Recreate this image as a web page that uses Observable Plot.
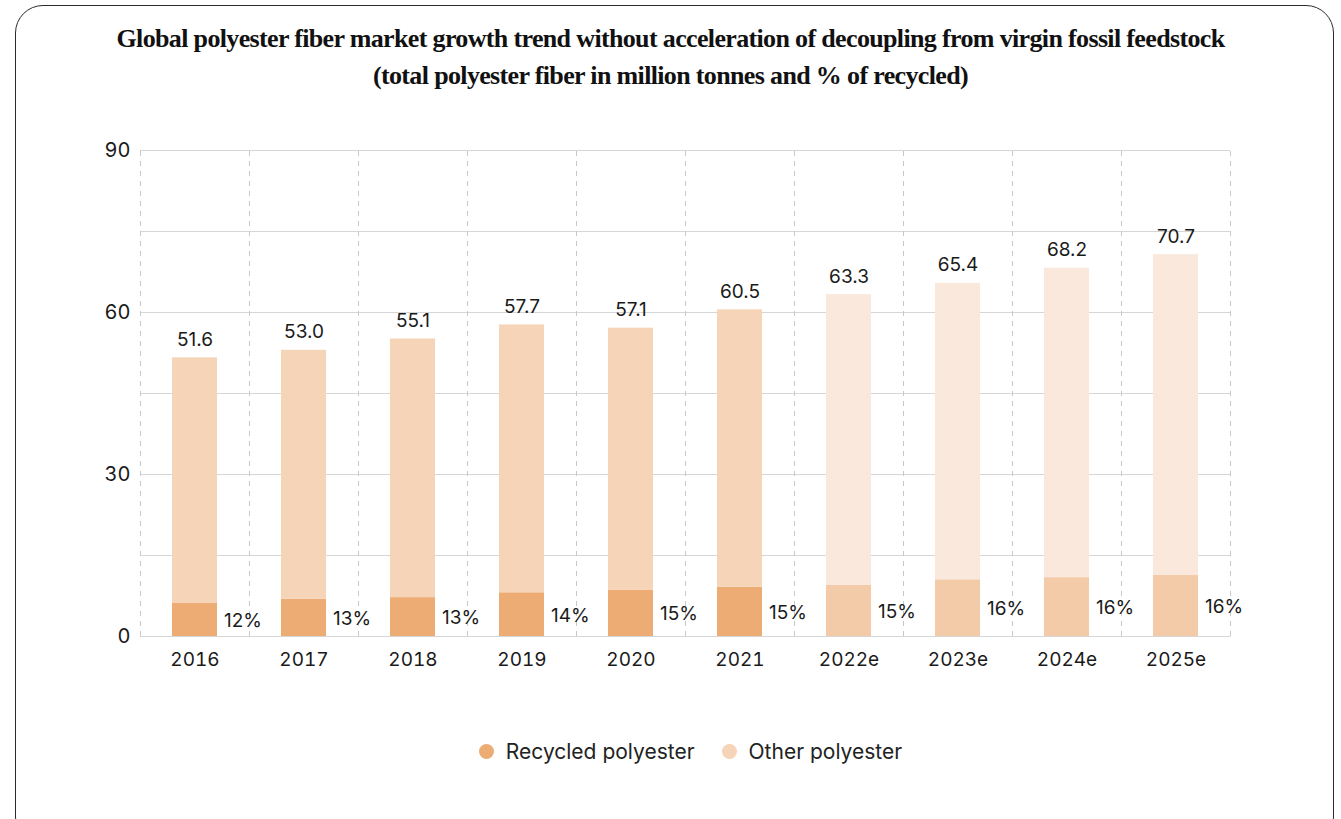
<!DOCTYPE html>
<html>
<head>
<meta charset="utf-8">
<script src="https://cdn.jsdelivr.net/npm/d3@7"></script>
<script src="https://cdn.jsdelivr.net/npm/@observablehq/plot@0.6"></script>
<style>
  html, body { margin: 0; padding: 0; background: #fff; overflow: hidden; width: 1341px; height: 819px; }
  #frame { position: absolute; left: 15px; top: 5px; width: 1319px; height: 840px; border: 1.5px solid #2a2a2a; border-radius: 28px; box-sizing: border-box; }
  #title { position: absolute; left: 0; top: 20px; width: 1341px; text-align: center; font-family: "Liberation Serif", serif; font-weight: bold; font-size: 26px; line-height: 37px; color: #111; letter-spacing: -0.65px; }
  #chart { position: absolute; left: 0; top: 120px; }
  #legend { position: absolute; left: 20px; top: 739px; width: 1341px; display: flex; justify-content: center; gap: 27px; font-family: Inter, sans-serif; font-size: 21px; color: #222; }
  .item { display: flex; align-items: center; gap: 12px; }
  .dot { width: 15px; height: 15px; border-radius: 50%; display: inline-block; }
</style>
</head>
<body>
<div id="frame"></div>
<div id="title">Global polyester fiber market growth trend without acceleration of decoupling from virgin fossil feedstock<br>(total polyester fiber in million tonnes and % of recycled)</div>
<div id="chart"></div>
<div id="legend"></div>
<script>
const years = ["2016", "2017", "2018", "2019", "2020", "2021", "2022e", "2023e", "2024e", "2025e"];
const totals = [51.6, 53.0, 55.1, 57.7, 57.1, 60.5, 63.3, 65.4, 68.2, 70.7];
const recycled = [6.2, 6.9, 7.2, 8.1, 8.6, 9.1, 9.5, 10.5, 10.9, 11.3];
const recycledShare = ["12%", "13%", "13%", "14%", "15%", "15%", "15%", "16%", "16%", "16%"];
const estimated = [false, false, false, false, false, false, true, true, true, true];
const yTicks = [0, 30, 60, 90];
const yGrid = [0, 15, 30, 45, 60, 75, 90];
const seriesNames = ["Recycled polyester", "Other polyester"];
const colors = {
  actual: {"Recycled polyester": "#ECAC74", "Other polyester": "#F5D4B8"},
  estimate: {"Recycled polyester": "#F3CBA8", "Other polyester": "#F9E8DB"}
};

const rows = [];
years.forEach((y, i) => {
  rows.push({i, year: y, series: "Recycled polyester", value: recycled[i], est: estimated[i]});
  rows.push({i, year: y, series: "Other polyester", value: +(totals[i] - recycled[i]).toFixed(1), est: estimated[i]});
});
const labels = years.map((y, i) => ({i, year: y, total: totals[i], rec: recycled[i], share: recycledShare[i]}));
const boundaries = d3.range(0, years.length + 1);

const font = "Inter, sans-serif";
const chart = Plot.plot({
  width: 1341,
  height: 561,
  marginLeft: 140,
  marginRight: 111,
  marginTop: 30,
  marginBottom: 45,
  style: {fontFamily: font, fontSize: "19px", color: "#222", background: "transparent"},
  x: {type: "linear", domain: [0, years.length]},
  y: {domain: [0, 90]},
  marks: [
    Plot.ruleY(yGrid, {stroke: "#d6d6d6", strokeWidth: 1.2}),
    Plot.ruleX(boundaries, {y1: 0, y2: 90, stroke: "#c8c8c8", strokeDasharray: "5,5", strokeWidth: 1}),
    Plot.rectY(rows, {
      x: "i", interval: 1, y: "value",
      fill: d => (d.est ? colors.estimate : colors.actual)[d.series],
      order: seriesNames,
      insetLeft: 32, insetRight: 32
    }),
    Plot.text(labels, {x: d => d.i + 0.5, y: "total", text: d => d.total.toFixed(1), dy: -18, fontSize: 19, fill: "#1a1a1a"}),
    Plot.text(labels, {x: d => d.i + 0.5, y: d => d.rec / 2, text: "share", dx: 29, dy: 1, textAnchor: "start", fontSize: 19, fill: "#1a1a1a"}),
    Plot.axisY({ticks: yTicks, tickSize: 0, tickPadding: 10, fontSize: 20, label: null, fill: "#1a1a1a"}),
    Plot.axisX({ticks: years.map((_, i) => i + 0.5), tickFormat: d => years[Math.round(d - 0.5)], tickSize: 0, tickPadding: 16, fontSize: 19, label: null, fill: "#1a1a1a"})
  ]
});
document.getElementById("chart").appendChild(chart);

const legend = document.getElementById("legend");
seriesNames.forEach(s => {
  const item = document.createElement("div");
  item.className = "item";
  const dot = document.createElement("span");
  dot.className = "dot";
  dot.style.background = colors.actual[s];
  const label = document.createElement("span");
  label.textContent = s;
  item.appendChild(dot);
  item.appendChild(label);
  legend.appendChild(item);
});
</script>
</body>
</html>
